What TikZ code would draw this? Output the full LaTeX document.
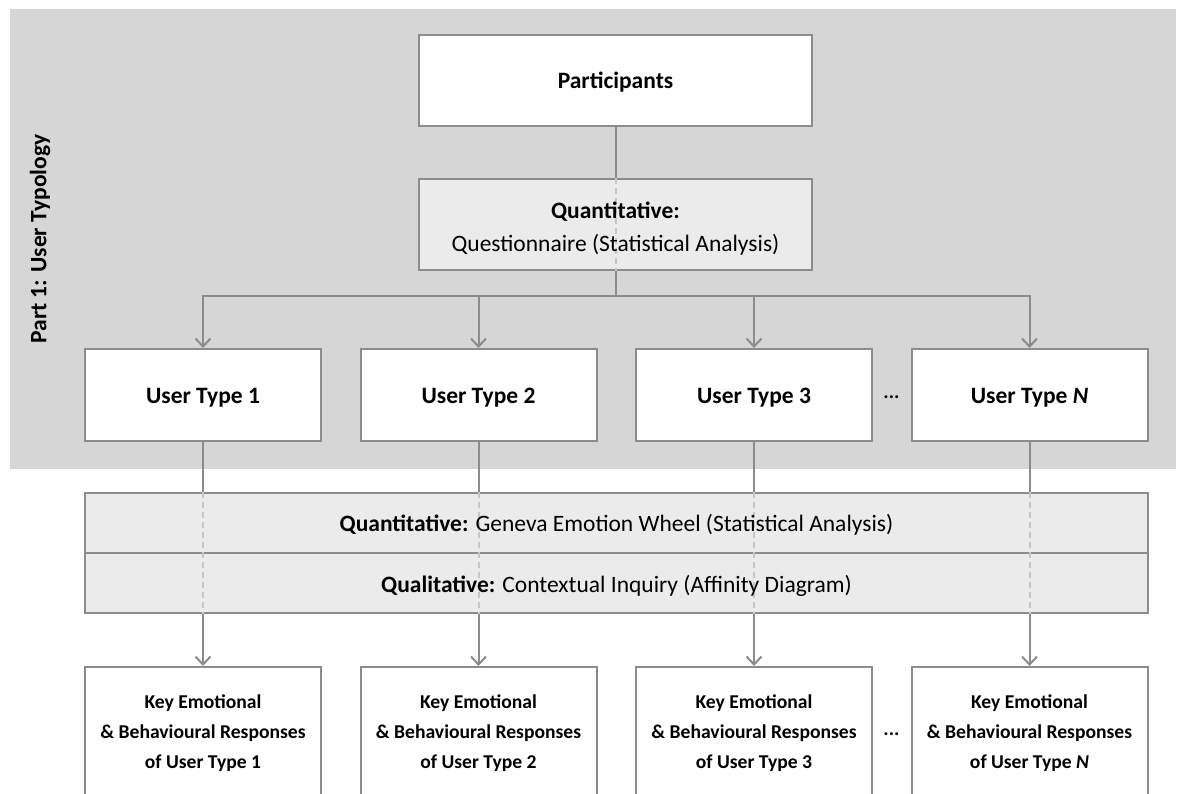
\documentclass[tikz,border=0pt]{standalone}
\usepackage{fontspec}
\setmainfont{Carlito}
\usetikzlibrary{arrows.meta}
\definecolor{panel}{HTML}{D6D6D6}
\definecolor{edge}{HTML}{8C8C8C}
\definecolor{boxfill}{HTML}{EBEBEB}
\definecolor{hidden}{HTML}{C6C6C6}
\tikzset{
  wbox/.style={draw=edge, line width=2pt, fill=white, rectangle, inner sep=0pt, align=center},
  gbox/.style={wbox, fill=boxfill},
  big/.style={font=\fontsize{23.5}{28}\selectfont},
  bigbold/.style={font=\fontsize{23.5}{28}\selectfont\bfseries},
  title/.style={wbox, bigbold, text height=22pt, text depth=5pt},
  utype/.style={title, minimum width=236pt, minimum height=92pt},
  keybox/.style={wbox, anchor=north, minimum width=236pt, minimum height=132pt,
    font=\fontsize{19.6}{30}\selectfont\bfseries},
  caption/.style={big, inner sep=0pt, align=center},
  link/.style={draw=edge, line width=2pt},
  arr/.style={link, -{Straight Barb[length=8pt,width=15pt,line width=2pt]}},
  hid/.style={draw=hidden, line width=2pt, dash pattern=on 6pt off 4pt},
  dots/.style={font=\fontsize{20}{24}\selectfont\bfseries}
}
\begin{document}
\begin{tikzpicture}[x=1pt,y=-1pt]
  \clip (0,0) rectangle (1180,794);
  \fill[white] (0,0) rectangle (1180,794);
  % shaded band for part 1
  \fill[panel] (10,9) rectangle (1176,469);
  \node[rotate=90, bigbold] (plabel) at (40,239) {Part 1: User Typology};

  % top of the hierarchy
  \node[title, minimum width=393pt, minimum height=91pt] (part) at (615.5,80.5) {Participants};
  \node[gbox, minimum width=393pt, minimum height=91pt] (quant) at (615.5,224.5) {};

  % user types
  \node[utype] (ut1) at (203,395) {User Type 1};
  \node[utype] (ut2) at (478.5,395) {User Type 2};
  \node[utype] (ut3) at (754,395) {User Type 3};
  \node[utype] (utN) at (1029.5,395) {User Type \textit{N}};
  \node[dots] (d1) at (891.5,397) {...};

  % shared methods band
  \node[gbox, minimum width=1063pt, minimum height=60pt] (gew) at (616.5,523) {};
  \node[gbox, minimum width=1063pt, minimum height=60pt] (qual) at (616.5,583) {};

  % per-type outcomes
  \node[keybox] (k1) at (203,666) {Key Emotional\\\& Behavioural Responses\\of User Type 1};
  \node[keybox] (k2) at (478.5,666) {Key Emotional\\\& Behavioural Responses\\of User Type 2};
  \node[keybox] (k3) at (754,666) {Key Emotional\\\& Behavioural Responses\\of User Type 3};
  \node[keybox] (kN) at (1029.5,666) {Key Emotional\\\& Behavioural Responses\\of User Type \textit{N}};
  \node[dots] (d2) at (891.5,734) {...};

  % connectors
  \coordinate (bus) at (615.5,296);
  \draw[link] (part.south) -- (quant.north);
  \draw[hid] (quant.north) -- (quant.south);
  \draw[link] (quant.south) -- (bus);
  \foreach \u in {ut1,ut2,ut3,utN}{
    \draw[arr] (bus) -| (\u.north);
  }
  \foreach \u/\k in {ut1/k1,ut2/k2,ut3/k3,utN/kN}{
    \draw[link] (\u.south) -- (\u.south |- gew.north);
    \draw[hid] (\u.south |- gew.north) -- (\u.south |- qual.south);
    \draw[arr] (\u.south |- qual.south) -- (\k.north);
  }

  % captions set over the hidden pass-through lines
  \node[caption, font=\fontsize{23.5}{33}\selectfont] (quantT) at (615.5,228.5)
    {\textbf{Quantitative:}\\Questionnaire (Statistical Analysis)};
  \node[caption] (gewT) at (616.5,525)
    {\textbf{Quantitative:} Geneva Emotion Wheel (Statistical Analysis)};
  \node[caption] (qualT) at (616.5,586)
    {\textbf{Qualitative:} Contextual Inquiry (Affinity Diagram)};
\end{tikzpicture}
\end{document}
